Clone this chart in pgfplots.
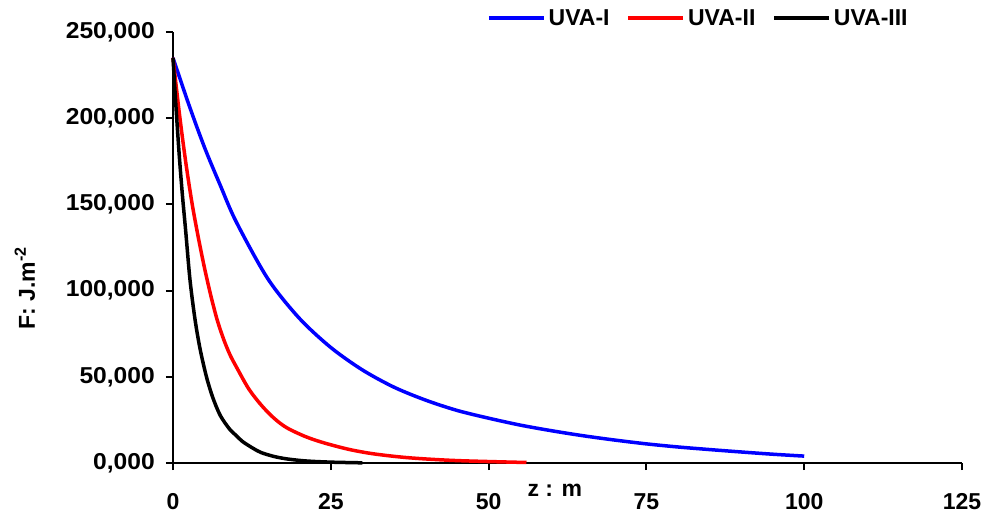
\documentclass[border=0pt]{standalone}
\usepackage{fontspec}
\setmainfont{Liberation Sans}
\usepackage{pgfplots}
\pgfplotsset{compat=1.18}
\newcommand{\lf}{\fontsize{23}{27}\selectfont\bfseries}
\newcommand{\Y}[1]{\scalebox{1.07}[1]{#1}}
\begin{document}
\begin{tikzpicture}
\useasboundingbox (-173pt,-52pt) rectangle (811pt,463pt);
\begin{axis}[
  at={(0pt,0pt)}, anchor=south west,
  scale only axis, width=789pt, height=431pt,
  xmin=0, xmax=125, ymin=0, ymax=250000,
  axis lines=left, axis line style={-, line width=2.5pt},
  xtick={0,25,50,75,100,125}, xticklabels={0,25,50,75,100,125},
  ytick={0,50000,100000,150000,200000,250000},
  yticklabels={{\Y{0,000}},{\Y{50,000}},{\Y{100,000}},{\Y{150,000}},{\Y{200,000}},{\Y{250,000}}},
  scaled y ticks=false,
  tick align=outside, major tick length=7pt, tick style={line width=2pt, black},
  xticklabel style={font=\lf, anchor=north, inner sep=0pt, yshift=-23pt},
  yticklabel style={font=\lf, anchor=east, inner sep=0pt, xshift=-11pt},
  clip=false,
  xlabel={z : m},
  xlabel style={at={(axis description cs:0.484,-0.0626)}, anchor=center, font=\lf, inner sep=0pt},
  ylabel={F: J.m\textsuperscript{-2}},
  ylabel style={at={(axis description cs:-0.1876,0.406)}, anchor=center, font=\lf, inner sep=0pt},
  legend columns=3,
  legend style={draw=none, fill=none, at={(axis description cs:0.398,1.0325)}, anchor=west,
    inner sep=0pt, font=\lf, nodes={inner sep=0pt},
    /tikz/every odd column/.append style={column sep=3pt},
    /tikz/every even column/.append style={column sep=17pt}},
  legend image code/.code={\draw[#1, line width=3.5pt] (0pt,0pt) -- (55pt,0pt);},
]
\addplot[blue, line width=3.5pt, smooth] coordinates {
(0,235000) (2.5,208000) (5,183000) (7.5,161000) (10,140000) (15,107000) (20,84000) (25,67000)
(30,54000) (35,44000) (40,36500) (45,30500) (50,26000) (55,22000) (60,18700) (65,15800)
(70,13300) (75,11100) (80,9300) (85,7800) (90,6400) (95,5100) (100,4000)};
\addlegendentry{UVA-I}
\addplot[red, line width=3.5pt, smooth] coordinates {
(0,235000) (1,203000) (2,175000) (3,151000) (4,131000) (5,113000) (6,97000) (7,83000) (8,72000)
(9,63000) (10,56000) (12,43000) (14,33500) (16,26000) (18,20500) (21,15300) (24,11600) (28,7800)
(32,5200) (37.5,3000) (45,1400) (56,300)};
\addlegendentry{UVA-II}
\addplot[black, line width=3.5pt, smooth] coordinates {
(0,235000) (0.5,205000) (1,178000) (1.5,155000) (2,135000) (2.7,106000) (3.5,83000) (4.3,66000)
(5.3,50000) (6.3,38000) (7.5,27500) (9,19500) (10,16000) (11,12500) (12.7,8500) (14,6000)
(16,3800) (18,2400) (21,1200) (25,500) (30,100)};
\addlegendentry{UVA-III}
\end{axis}
\end{tikzpicture}
\end{document}
